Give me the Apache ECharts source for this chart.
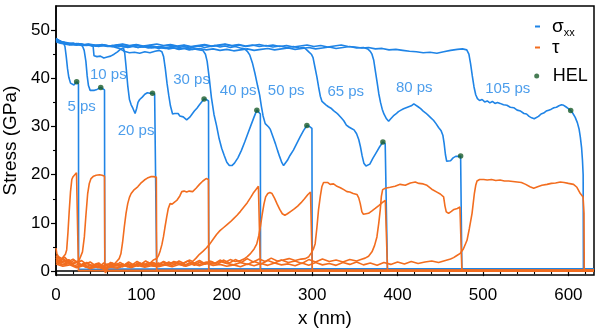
<!DOCTYPE html>
<html>
<head>
<meta charset="utf-8">
<script src="https://cdn.jsdelivr.net/npm/echarts@6/dist/echarts.min.js"></script>
<style>
  html, body { margin: 0; padding: 0; background: #fff; }
  #chart { width: 600px; height: 333px; }
</style>
</head>
<body>
<div id="chart"></div>
<script>
// Stress profiles: normal stress sigma_xx and shear stress tau along x (nm), at several times.
const timeLabels = ['5 ps', '10 ps', '20 ps', '30 ps', '40 ps', '50 ps', '65 ps', '80 ps', '105 ps'];
// anchor of each time label, in data units [x, y]
const timeLabelAnchors = [[30, 34.1], [61.3, 40.8], [93.8, 29.0], [158.8, 39.6], [213.3, 37.3],
  [269.5, 37.3], [339.3, 37.2], [419.5, 38.0], [529, 37.8]];

const xTicks = [0, 100, 200, 300, 400, 500, 600];
const xMinorTicks = [20, 40, 60, 80, 120, 140, 160, 180, 220, 240, 260, 280, 320, 340, 360, 380,
  420, 440, 460, 480, 520, 540, 560, 580, 620];
const yTicks = [0, 10, 20, 30, 40, 50];
const yMinorTicks = [5, 15, 25, 35, 45];

// Hugoniot elastic limit points
const hel = [[24.2, 39.3], [52.4, 38.1], [113, 36.9], [173.4, 35.7], [235.2, 33.4], [293.8, 30.2],
  [382.8, 26.8], [473.8, 23.9], [602.7, 33.3]];

// sigma_xx (GPa)
const sxx5 = [[0,48.3],[3,47.9],[6,47.6],[9,47.3],[10.5,46.6],[12,44.5],[13.5,42],[15,40.2],[17,39],
  [19,38.7],[21,38.6],[23,38.9],[24.2,39.3],[25.5,39.2],[26.3,38.8],[26.5,0.4],[630,0.4]];
const sxx10 = [[0,48.1],[4,47.8],[8,47.5],[12,47.3],[16,47.0],[20,47.2],[24,46.9],[28,47.1],[31,46.7],
  [33,45.8],[35,43.5],[36.5,40.5],[38,38.5],[40,37.5],[42,37.3],[45,37.5],[48,37.7],[50,37.9],
  [52.4,38.1],[54.5,38.0],[56.8,37.6],[57.1,0.4],[630,0.4]];
const sxx20 = [[0,48.2],[5,47.7],[10,47.4],[15,47.2],[20,47.3],[25,47.0],[30,47.1],[35,46.9],[40,46.8],
  [43.5,46.6],[44.5,44.7],[48,44.5],[52,44.6],[56,44.2],[60,44.4],[64,44.6],[68,45.0],[72,45.5],
  [76,46.1],[79,46.3],[80.5,45.2],[82,42.5],[84,38.5],[86,35.6],[88,34.5],[90,33.8],[92.6,32.7],
  [94.5,33.8],[96,35.0],[98,35.6],[101,36.1],[104,36.7],[107,37.0],[110,36.9],[113,36.9],[115.5,36.7],
  [117.6,36.5],[117.9,0.4],[630,0.4]];
const sxx30 = [[0,47.9],[5,47.6],[10,47.4],[15,47.1],[20,47.0],[26,47.2],[32,46.9],[38,47.0],[44,46.8],
  [50,46.6],[56,46.9],[62,46.7],[68,46.5],[74,46.2],[80,45.6],[86,45.3],[92,45.4],[98,45.2],[104,45.5],
  [110,45.3],[116,45.6],[121,45.8],[124,45.5],[126,44.5],[128,42],[130,39],[132,36.5],[134,34.3],
  [136.5,32.6],[139,32.7],[141,32.3],[143,32.7],[145,32.2],[147,32.5],[149,32.0],[151,31.8],[153,31.4],
  [155,31.6],[157,32.0],[159,32.5],[162,33.2],[165,33.8],[168,34.5],[171,35.2],[173.4,35.7],[176,35.6],
  [178.6,35.3],[178.9,0.4],[630,0.4]];
const sxx40 = [[0,47.8],[6,47.5],[12,47.3],[18,47.0],[24,47.1],[30,46.9],[36,47.0],[42,46.8],[48,46.9],
  [54,46.7],[60,46.8],[66,46.6],[72,46.9],[78,46.7],[84,46.5],[90,46.7],[96,46.4],[102,46.6],[108,46.3],
  [114,46.5],[120,46.2],[126,46.4],[132,46.1],[138,46.3],[144,46.0],[150,46.2],[156,45.9],[162,46.1],
  [168,45.9],[172,45.8],[175,45.0],[177,43.5],[179.5,40],[182,36],[185,32.5],[188,30.2],[191,27.5],
  [194,25.5],[197,24],[200,22.6],[203,21.9],[206,21.9],[209,22.4],[213,23.5],[217,25],[221,26.8],
  [225,28.7],[229,30.6],[232,32],[235.2,33.4],[237.5,33.0],[239.3,32.6],[239.5,0.4],[630,0.4]];
const sxx50 = [[0,48.0],[6,47.6],[12,47.4],[18,47.2],[24,46.9],[30,47.1],[36,46.8],[42,47.0],[48,46.7],
  [54,46.9],[60,46.6],[66,46.8],[72,46.5],[78,46.7],[84,46.4],[90,46.6],[96,46.8],[102,46.5],[108,46.7],
  [114,46.4],[120,46.6],[126,46.3],[132,46.5],[138,46.7],[144,46.4],[150,46.6],[156,46.3],[162,46.5],
  [168,46.7],[174,46.4],[180,46.6],[186,46.8],[192,46.5],[198,46.7],[204,46.4],[210,46.6],[216,46.3],
  [221,46.1],[224,45.6],[227,44.8],[230,43.2],[233,41],[236,38.5],[238.5,36.5],[240.5,34.2],[242.5,32.2],
  [245,30.6],[247,30.2],[249,29.9],[251,29.4],[253,28.4],[255,27.4],[257,26.4],[259.5,25.0],[262,23.7],
  [264.5,22.5],[266.5,21.9],[268.5,22.2],[271,23],[274,24],[278,25.1],[282,26.5],[286,27.9],[290,29.2],
  [293.8,30.2],[297,30.0],[299.7,29.6],[300,0.4],[630,0.4]];
const sxx65 = [[0,47.7],[6,47.4],[12,47.2],[18,47.0],[24,47.2],[30,46.9],[38,47.1],[46,46.8],[54,47.0],
  [62,46.7],[70,46.9],[78,47.1],[86,46.8],[94,47.0],[102,46.7],[110,46.9],[118,47.1],[126,46.8],[134,47.0],
  [142,46.7],[150,46.9],[158,46.6],[166,46.8],[174,47.0],[182,46.7],[190,46.9],[198,47.1],[206,46.8],
  [214,47.0],[222,46.7],[230,46.9],[238,46.6],[246,46.8],[254,46.5],[262,46.7],[270,46.4],[278,46.6],
  [285,46.3],[290,46.4],[293,46.0],[296,45.5],[299,45.0],[301,44.3],[303,42.5],[305.5,40.3],[307.5,38.2],
  [309.5,36.3],[311.5,35.2],[313.5,34.8],[316,34.5],[319,34.1],[322,33.8],[325,33.3],[328,32.9],
  [331,32.4],[334,31.8],[337,31.2],[340,30.3],[343,29.9],[346,29.6],[349,29.3],[352,28.5],[354.5,27.3],
  [356.5,25.8],[358.5,23.9],[360.5,22.4],[363,21.8],[365,21.6],[367.5,22.2],[371,23.4],[375,24.6],
  [379,25.8],[382.8,26.8],[385.5,26.4],[387.8,26.0],[388.1,0.4],[630,0.4]];
const sxx80 = [[0,47.9],[5,47.5],[10,47.3],[16,47.1],[22,46.9],[28,47.1],[34,46.8],[40,47.0],[48,46.7],
  [56,46.9],[64,46.6],[72,46.8],[80,46.5],[88,46.7],[96,46.4],[104,46.6],[112,46.3],[120,46.5],[128,46.2],
  [136,46.4],[144,46.1],[152,46.3],[160,46.0],[168,46.2],[176,45.9],[184,46.1],[192,45.8],[200,46.0],
  [208,45.7],[216,45.9],[224,46.1],[232,45.8],[240,46.0],[248,46.2],[256,45.9],[264,46.1],[272,46.3],
  [280,46.0],[288,46.2],[296,46.4],[304,46.1],[312,46.3],[320,46.5],[328,46.2],[336,46.4],[344,46.6],
  [352,46.3],[360,46.4],[365,46.1],[368,45.6],[370,45.0],[372,43.8],[374,41.5],[376,39.2],[378,36.8],
  [380,35.0],[382,33.6],[384,32.6],[387,31.6],[389.5,31.1],[392,31.6],[395,32.2],[398,32.6],[401,33.1],
  [404,33.4],[407,33.7],[410,33.9],[413,34.1],[416,34.3],[419,34.7],[421,34.5],[424,34.1],[427,33.7],
  [430,33.2],[433,32.8],[436,32.3],[439,31.8],[442,31.3],[445,30.6],[448,29.8],[451,29.1],[453,28.2],
  [454.5,26.5],[456,24.2],[457.5,22.8],[459.5,22.5],[462,22.9],[465,23.5],[468,23.8],[471,23.8],
  [473.8,23.9],[475,23.6],[475.3,0.4],[630,0.4]];
const sxx105 = [[0,47.6],[5,47.3],[10,47.1],[16,46.9],[22,47.1],[30,46.8],[38,47.0],[46,46.7],[54,46.9],
  [62,46.6],[70,46.8],[78,47.0],[86,46.7],[94,46.9],[102,46.6],[110,46.8],[118,46.5],[126,46.7],[134,46.9],
  [142,46.6],[150,46.8],[158,46.5],[166,46.7],[174,46.9],[182,46.6],[190,46.8],[198,47.0],[206,46.7],
  [214,46.9],[222,46.6],[230,46.8],[238,47.0],[246,46.7],[254,46.9],[262,46.6],[270,46.8],[278,46.5],
  [286,46.7],[294,46.9],[302,46.6],[310,46.8],[318,46.5],[326,46.7],[334,46.9],[342,46.6],[350,46.5],
  [358,46.3],[366,46.4],[374,46.1],[382,46.2],[390,45.9],[398,46.0],[406,45.8],[414,45.6],[422,45.5],
  [430,45.3],[438,45.4],[446,45.2],[454,45.5],[462,45.8],[470,46.0],[476,46.1],[481,45.9],[483.5,45.0],
  [485.5,43],[487.5,40.5],[489.5,38.2],[491.5,36.6],[493.5,35.8],[496,35.4],[499,35.6],[502,35.1],
  [505,35.3],[508,34.9],[511,35.2],[514,34.8],[517,35.0],[520,34.8],[524,34.5],[528,34.4],[532,34.0],
  [536,33.9],[540,33.4],[544,33.2],[548,32.7],[551,32.6],[554,32.1],[557,31.8],[560,31.6],[562,31.7],
  [565,32.1],[568,32.6],[571,32.8],[574,33.2],[577,33.4],[580,33.6],[583,33.9],[586,34.0],[589,34.3],
  [592,34.5],[594.5,34.4],[597,34.1],[600,33.7],[602.7,33.3],[605,32.8],[608,31.9],[610.5,30.8],
  [612.5,29.5],[614,27.8],[615.5,25.5],[616.5,23],[617.3,20],[617.6,0.4],[630,0.4]];

// tau (GPa)
const tau5 = [[0,4.8],[1,3.6],[3,3.0],[5,2.8],[7,2.6],[9,3.0],[11,3.5],[12.5,4.4],[14,8],[15.5,12.5],
  [17,16.5],[18.5,19.0],[20,19.6],[22,20.0],[24,20.4],[25.8,20.8],[26.3,0.1],[630,0.1]];
const tau10 = [[0,2.6],[3,2.9],[6,2.2],[9,2.6],[12,1.9],[15,2.4],[18,1.8],[21,2.3],[24,1.9],[27,2.2],
  [29.3,2.6],[31,4],[33.2,7.1],[35,11.5],[37.1,16.1],[39,18.2],[41,19.2],[44,19.7],[47,19.9],[51,20.0],
  [54,19.9],[56.8,19.7],[57.2,0.1],[630,0.1]];
const tau20 = [[0,2.8],[4,2.1],[8,2.5],[12,1.6],[16,2.2],[20,1.4],[24,1.9],[28,1.2],[32,1.6],[36,0.9],
  [40,1.3],[44,0.8],[48,1.5],[52,1.1],[56,1.7],[60,1.2],[64,1.8],[68,1.4],[71,2.0],[74,2.6],[76,3.6],
  [78,6],[80,9.2],[82,12],[84,14],[86,15.3],[88,16.1],[91,16.8],[95.7,17.5],[99,18.2],[103.5,18.9],
  [107,19.3],[111,19.6],[114,19.6],[117.5,19.5],[117.9,0.1],[630,0.1]];
const tau30 = [[0,3.2],[5,2.4],[10,2.9],[15,2.0],[20,2.5],[25,1.7],[30,2.2],[35,1.5],[40,1.9],[45,1.3],
  [50,1.7],[55,1.0],[58,-0.4],[61,0.9],[65,1.5],[70,1.1],[75,1.8],[80,1.3],[85,1.9],[90,1.4],[95,2.0],
  [100,1.5],[105,2.1],[110,1.6],[114,2.3],[118,2.6],[120,3.2],[122,4.2],[124,5.5],[125.8,7.1],
  [127.5,9],[129.7,11.3],[131.5,13],[133.6,14],[136,13.9],[139.5,14.4],[142,14.8],[145,15.6],
  [147.3,16.5],[150,16.6],[153,16.4],[156,16.6],[160,16.5],[164,17.2],[168,18.0],[172,18.7],
  [175.8,19.2],[178.5,19.0],[178.9,0.1],[630,0.1]];
const tau40 = [[0,2.4],[6,1.9],[12,2.3],[18,1.5],[24,2.0],[30,1.2],[36,1.8],[42,1.1],[48,1.6],[54,0.9],
  [60,1.5],[66,1.0],[72,1.6],[78,0.9],[84,1.4],[90,1.0],[96,1.7],[102,1.2],[108,1.8],[114,1.1],[120,1.7],
  [126,1.2],[132,1.9],[138,1.4],[144,2.1],[150,1.6],[156,2.3],[160,2.0],[164,2.7],[168,3.5],[172,4.1],
  [176,4.8],[180,5.6],[184,6.6],[188,7.6],[192,8.4],[196,9.0],[200,9.6],[204,10.2],[208,10.9],
  [212,11.6],[216,12.4],[220,13.3],[224,14.2],[228,15.3],[231,16.2],[234,16.9],[237,17.6],[239,17.9],
  [239.4,0.1],[630,0.1]];
const tau50 = [[0,2.2],[6,1.7],[12,2.1],[18,1.4],[24,1.9],[30,1.2],[36,1.6],[42,0.9],[48,1.4],[54,0.8],
  [60,1.3],[66,1.7],[72,1.1],[78,1.5],[84,0.9],[90,1.4],[96,1.0],[102,1.6],[108,1.2],[114,1.8],[120,1.3],
  [126,1.9],[132,1.4],[138,2.0],[144,1.5],[150,1.1],[156,1.7],[162,1.2],[168,1.9],[174,1.4],[180,2.1],
  [186,1.6],[192,2.3],[198,1.8],[204,2.4],[210,2.0],[216,2.2],[220,2.5],[224,3.0],[228,3.7],[232,4.6],
  [235,5.6],[237.5,7.4],[239.5,9.4],[241.5,11.8],[243.5,13.9],[245.5,15.4],[248,16.1],[250.5,16.3],
  [253,16.1],[256,15.1],[259,13.9],[262,12.8],[265,11.9],[268,11.6],[271,11.9],[275,12.4],[279,12.9],
  [283,13.5],[287,14.2],[291,15.0],[295,15.9],[298,16.4],[299.8,16.5],[300.2,0.1],[630,0.1]];
const tau65 = [[0,2.0],[7,1.4],[14,1.8],[21,1.1],[28,1.5],[35,0.8],[42,1.3],[49,0.7],[56,1.2],[63,0.9],
  [70,1.4],[77,1.0],[84,1.6],[91,1.1],[98,1.7],[105,1.2],[112,1.8],[119,1.3],[126,2.0],[133,1.4],
  [140,1.9],[147,1.5],[154,2.1],[161,1.6],[168,2.2],[175,1.5],[182,2.0],[189,1.4],[196,2.3],[203,1.7],
  [210,2.4],[217,1.8],[224,2.6],[231,1.9],[238,2.5],[245,2.0],[252,2.7],[259,2.1],[266,2.3],[273,2.6],
  [280,2.2],[287,2.5],[292,2.6],[296,3.0],[299,3.8],[301.5,4.6],[303.5,5.7],[305.5,9],[307.4,12.7],
  [309.5,15.5],[311.3,17.5],[313.3,18.4],[315.2,18.7],[318,18.4],[321,18.0],[325,18.1],[329,17.6],
  [333,17.3],[337,16.9],[340.7,16.5],[344,16.4],[348,16.1],[352.4,15.9],[354.5,15.2],[356.3,14.0],
  [358.2,12.3],[360,11.8],[362.1,11.6],[366,12.0],[370,12.5],[373.8,13.0],[378,13.6],[382,14.2],
  [385.6,14.7],[387.8,14.8],[388.2,0.1],[630,0.1]];
const tau80 = [[0,1.8],[8,1.3],[16,1.6],[24,0.9],[32,1.4],[40,0.7],[48,1.1],[56,0.6],[64,1.0],[72,0.8],
  [80,1.3],[88,0.9],[96,1.5],[104,1.0],[112,1.4],[120,1.1],[128,1.6],[136,1.2],[144,1.7],[152,1.3],
  [160,1.8],[168,1.4],[176,1.9],[184,1.5],[192,2.0],[200,1.6],[208,1.3],[216,1.8],[224,1.4],[232,2.0],
  [240,1.5],[248,2.2],[256,1.7],[264,2.3],[272,1.8],[280,2.1],[288,1.6],[296,2.4],[304,1.9],[312,2.5],
  [320,2.0],[328,2.3],[336,1.9],[344,2.4],[352,2.1],[357,2.4],[362,2.7],[366,3.1],[370,4.0],[373,5.3],
  [375.8,7.1],[378,10],[379.7,12.7],[381,15.5],[382.5,16.9],[385.6,17.2],[391.4,17.4],[397,17.6],
  [403,18.0],[409,17.8],[415,18.3],[420.7,18.5],[425,18.2],[430,18.1],[434.4,17.8],[440,17.0],
  [446,16.4],[450,16.0],[453.9,15.4],[455.5,13.5],[457,12.3],[459.7,12.0],[463,12.4],[466,12.8],
  [470,13.0],[473,13.3],[475,13.1],[475.3,0.1],[630,0.1]];
const tau105 = [[0,1.5],[8,1.0],[16,1.3],[24,0.7],[32,1.1],[40,0.5],[48,0.9],[56,0.4],[64,0.8],[72,0.6],
  [80,1.1],[88,0.7],[96,1.2],[104,0.8],[112,1.1],[120,0.9],[128,1.3],[136,0.9],[144,1.4],[152,1.0],
  [160,1.5],[168,1.1],[176,1.6],[184,1.2],[192,1.4],[200,1.0],[208,1.3],[216,0.9],[224,1.5],[232,1.1],
  [240,1.6],[248,1.2],[256,1.7],[264,1.3],[272,1.5],[280,1.1],[288,1.7],[296,1.2],[304,1.8],[312,1.3],
  [320,1.6],[328,1.2],[336,1.8],[344,1.4],[352,1.9],[360,1.3],[368,1.7],[376,1.2],[384,1.8],[392,1.4],
  [400,1.9],[408,1.5],[416,2.0],[424,1.6],[432,1.9],[440,2.1],[448,1.8],[456,2.2],[462,2.5],[465.6,2.8],
  [469,3.2],[473.4,3.7],[477,4.6],[481.3,6.4],[484,8.8],[487.2,12],[489.9,16.1],[491.5,17.8],[493,18.7],
  [496,19.0],[500.8,19.0],[505,18.9],[510,19.0],[515,18.8],[520,18.9],[525,18.7],[530,18.7],[535,18.6],
  [540,18.5],[545,18.4],[550,18.0],[555,17.5],[559.4,17.2],[564,17.5],[569,17.8],[575,18.0],[580,18.2],
  [585,18.3],[590.6,18.5],[595,18.4],[600,18.2],[606,18.0],[610,17.4],[614,16.1],[617.2,15.4],
  [618.3,12],[618.6,0.1],[630,0.1]];

const sigmaCurves = [sxx5, sxx10, sxx20, sxx30, sxx40, sxx50, sxx65, sxx80, sxx105];
const tauCurves = [tau5, tau10, tau20, tau30, tau40, tau50, tau65, tau80, tau105];

const BLUE = '#1f84e6';
const ORANGE = '#f26d1f';
const GREEN = '#1a5c2a';
const FONT = '"Liberation Sans", Arial, Helvetica, sans-serif';

function lineSeries(name, data, color, z) {
  return {
    type: 'line', name, data, color, z,
    showSymbol: false, symbol: 'none', silent: true,
    lineStyle: { width: 1.6, color },
    itemStyle: { color },
    animation: false
  };
}

const series = [];
sigmaCurves.forEach(d => series.push(lineSeries('σxx', d, BLUE, 2)));
tauCurves.forEach(d => series.push(lineSeries('τ', d, ORANGE, 3)));
series.push({
  type: 'scatter', name: 'HEL', data: hel, symbol: 'circle', symbolSize: 5.5, z: 5,
  itemStyle: { color: GREEN }, color: GREEN, silent: true, animation: false
});
series.push({
  type: 'scatter', name: 'times', z: 6, silent: true, animation: false,
  symbolSize: 1, itemStyle: { color: 'rgba(0,0,0,0)' },
  data: timeLabelAnchors.map((p, i) => ({ value: p, name: timeLabels[i] })),
  label: {
    show: true, position: 'inside', formatter: p => p.name,
    color: BLUE, fontSize: 15, fontFamily: FONT
  },
  labelLayout: { hideOverlap: false }
});

const axisLineStyle = { color: '#000', width: 1.5 };

const chart = echarts.init(document.getElementById('chart'), null, { renderer: 'canvas' });
chart.setOption({
  backgroundColor: '#fff',
  animation: false,
  textStyle: { fontFamily: FONT },
  grid: {
    left: 56, right: 6, top: 6, bottom: 58, show: true, borderColor: '#000', borderWidth: 1.5,
    containLabel: false, outerBoundsMode: 'none'
  },
  legend: [
    {
      data: ['σxx', 'τ'], orient: 'vertical', left: 535, top: 17, padding: 0,
      itemGap: 0, itemWidth: 5, itemHeight: 2, icon: 'rect', selectedMode: false,
      formatter: n => n === 'σxx' ? '{s|σ}{sub|xx}' : '{s|τ}',
      textStyle: {
        color: '#000', padding: [0, 0, 0, 7],
        rich: {
          s: { fontSize: 19, lineHeight: 23, fontFamily: FONT, color: '#000' },
          sub: { fontSize: 11, lineHeight: 17, verticalAlign: 'bottom', fontFamily: FONT, color: '#000' }
        }
      }
    },
    {
      data: ['HEL'], orient: 'vertical', left: 534.2, top: 64.5, padding: 0,
      itemWidth: 5, itemHeight: 5, icon: 'circle', selectedMode: false,
      textStyle: { color: '#000', fontSize: 18, lineHeight: 23, fontFamily: FONT, padding: [0, 0, 0, 8.5] }
    }
  ],
  xAxis: [
    {
      type: 'value', min: 0, max: 630,
      name: 'x (nm)', nameLocation: 'middle', nameGap: 33,
      nameTextStyle: { fontSize: 19, color: '#000', fontFamily: FONT },
      axisLine: { show: true, lineStyle: axisLineStyle },
      axisTick: { show: true, inside: false, length: 5, customValues: xTicks, lineStyle: { color: '#000', width: 1.2 } },
      axisLabel: { show: true, customValues: xTicks, margin: 12, fontSize: 17, color: '#000', fontFamily: FONT },
      splitLine: { show: false }
    },
    {
      type: 'value', min: 0, max: 630, position: 'bottom',
      axisLine: { show: false },
      axisTick: { show: true, inside: false, length: 3, customValues: xMinorTicks, lineStyle: { color: '#000', width: 1.1 } },
      axisLabel: { show: false },
      splitLine: { show: false }
    }
  ],
  yAxis: [
    {
      type: 'value', min: -0.8, max: 55,
      name: 'Stress (GPa)', nameLocation: 'middle', nameGap: 32,
      nameTextStyle: { fontSize: 19, color: '#000', fontFamily: FONT },
      axisLine: { show: true, lineStyle: axisLineStyle },
      axisTick: { show: true, inside: false, length: 5, customValues: yTicks, lineStyle: { color: '#000', width: 1.2 } },
      axisLabel: { show: true, customValues: yTicks, margin: 6, fontSize: 17, color: '#000', fontFamily: FONT },
      splitLine: { show: false }
    },
    {
      type: 'value', min: -0.8, max: 55, position: 'left',
      axisLine: { show: false },
      axisTick: { show: true, inside: false, length: 3, customValues: yMinorTicks, lineStyle: { color: '#000', width: 1.1 } },
      axisLabel: { show: false },
      splitLine: { show: false }
    }
  ],
  series
});
</script>
</body>
</html>
